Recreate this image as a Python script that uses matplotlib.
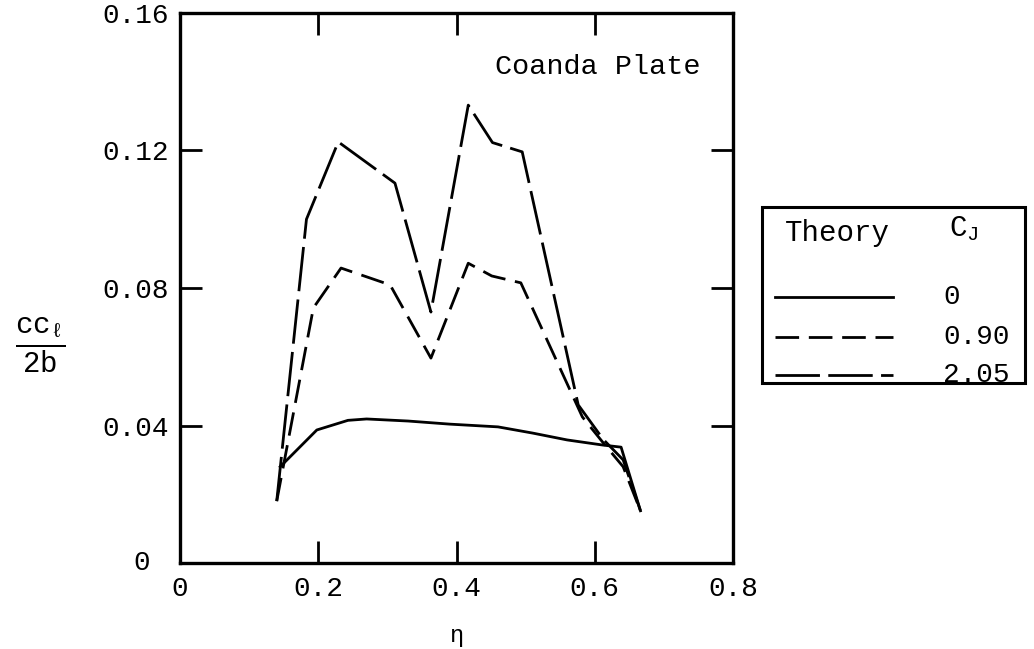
import matplotlib
matplotlib.use('Agg')
import matplotlib.pyplot as plt
from matplotlib.lines import Line2D
from matplotlib.patches import Rectangle

# spanwise stations (eta) and section loading cc_l/2b
eta_0 = [0.145, 0.198, 0.243, 0.27, 0.33, 0.39, 0.46, 0.51, 0.56, 0.612, 0.638, 0.666]
cl_0 = [0.028, 0.0387, 0.0415, 0.0419, 0.0413, 0.0404, 0.0396, 0.0378, 0.0358, 0.0343, 0.0337, 0.0152]

eta_090 = [0.140, 0.193, 0.233, 0.304, 0.363, 0.417, 0.451, 0.493, 0.582, 0.612, 0.641, 0.666]
cl_090 = [0.018, 0.0742, 0.0858, 0.0809, 0.0596, 0.0872, 0.0835, 0.0815, 0.0425, 0.035, 0.028, 0.0152]

eta_205 = [0.140, 0.183, 0.229, 0.311, 0.363, 0.417, 0.452, 0.495, 0.576, 0.612, 0.641, 0.666]
cl_205 = [0.018, 0.100, 0.1225, 0.1105, 0.073, 0.1332, 0.1223, 0.1196, 0.046, 0.036, 0.030, 0.0152]

xticks = [0, 0.2, 0.4, 0.6, 0.8]
xticklabels = ['0', '0.2', '0.4', '0.6', '0.8']
yticks = [0, 0.04, 0.08, 0.12, 0.16]
yticklabels = ['', '0.04', '0.08', '0.12', '0.16']

cj_labels = ['0', '0.90', '2.05']

plt.rcParams['font.family'] = ['Liberation Mono', 'DejaVu Sans']
plt.rcParams['mathtext.fontset'] = 'custom'
plt.rcParams['mathtext.rm'] = 'Liberation Mono'
plt.rcParams['mathtext.tt'] = 'Liberation Mono'
plt.rcParams['mathtext.it'] = 'Liberation Mono'
plt.rcParams['lines.scale_dashes'] = False

styles = [dict(linestyle='-'),
          dict(linestyle=(0, (17, 7))),
          dict(linestyle=(0, (32, 6)))]

fig = plt.figure(figsize=(10.34, 6.49), dpi=100)
ax = fig.add_axes([0.174, 0.1325, 0.535, 0.8475])

for (ex, cy), st in zip([(eta_0, cl_0), (eta_090, cl_090), (eta_205, cl_205)], styles):
    ax.plot(ex, cy, color='black', linewidth=2.0, **st)

ax.set_xlim(0, 0.8)
ax.set_ylim(0, 0.16)
ax.set_xticks(xticks)
ax.set_xticklabels(xticklabels)
ax.set_yticks(yticks)
ax.set_yticklabels(yticklabels)
ax.tick_params(direction='in', length=16, width=2, top=True, right=True, labelsize=20)
ax.tick_params(axis='x', pad=9)
ax.tick_params(axis='y', pad=8)
for s in ax.spines.values():
    s.set_linewidth(2.4)

# the "0" on the y axis sits further left than the other labels
ax.text(-0.043, 0.0, '0', ha='right', va='center', fontsize=20, clip_on=False)

ax.text(0.456, 0.1443, 'Coanda Plate', ha='left', va='center', fontsize=20.5)
ax.set_xlabel(r'$\eta$', fontsize=17)
ax.xaxis.label.set_va('center')
ax.xaxis.set_label_coords(0.5, -0.136)

fig.text(0.039, 0.468, r'$\frac{\mathtt{cc}_{\ell}}{\mathtt{2b}}$', ha='center', va='center',
         fontsize=30)

# legend box drawn by hand (two-column Theory / C_J table)
fig.add_artist(Rectangle((0.737, 0.410), 0.254, 0.271, transform=fig.transFigure,
                         fill=False, edgecolor='black', linewidth=2.2))
fig.text(0.810, 0.641, 'Theory', ha='center', va='center', fontsize=21)
fig.text(0.932, 0.647, r'$\mathtt{C_J}$', ha='center', va='center', fontsize=21)
row_y = [0.5424, 0.4807, 0.4222]
for lab, st, yy in zip(cj_labels, styles, row_y):
    fig.add_artist(Line2D([0.7495, 0.8636], [yy, yy], transform=fig.transFigure,
                          color='black', linewidth=2.0, **st))
    fig.text(0.912, yy, lab, ha='left', va='center', fontsize=20)

fig.savefig('out.png', dpi=100)
